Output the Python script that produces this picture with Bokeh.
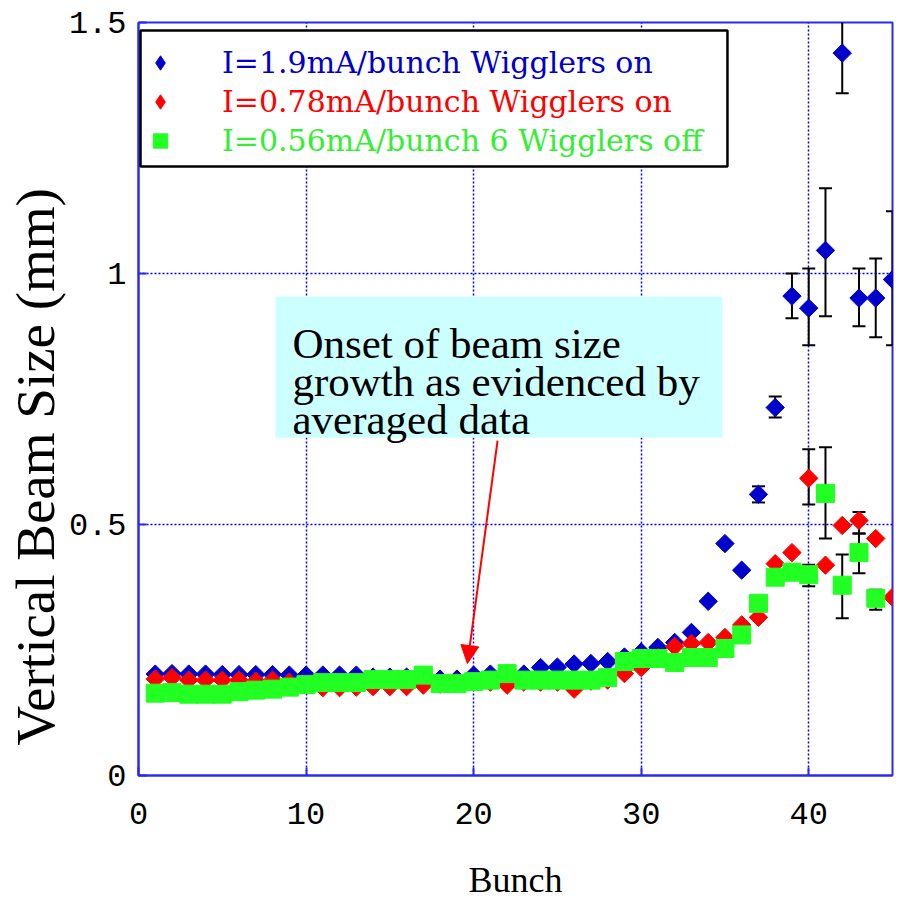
import math
from bokeh.plotting import figure
from bokeh.models import (Legend, LegendItem, Label, BoxAnnotation, Arrow, NormalHead,
                          FixedTicker, ColumnDataSource, Title)
from bokeh.embed import file_html
from bokeh.resources import INLINE

# ---------------- data ----------------
bunch = list(range(1, 46))
size_19ma = [0.202, 0.203, 0.202, 0.202, 0.201, 0.201, 0.201, 0.201, 0.200, 0.200,
             0.200, 0.200, 0.200, 0.196, 0.196, 0.196, 0.196, 0.192, 0.192, 0.200,
             0.202, 0.202, 0.202, 0.215, 0.216, 0.222, 0.223, 0.227, 0.236, 0.246,
             0.255, 0.265, 0.285, 0.347, 0.462, 0.409, 0.560, 0.733, 0.955, 0.931,
             1.046, 1.439, 0.951, 0.951, 0.988]
size_078ma = [0.192, 0.195, 0.190, 0.190, 0.190, 0.190, 0.188, 0.190, 0.186, 0.182,
              0.175, 0.175, 0.176, 0.177, 0.177, 0.177, 0.180, 0.182, 0.185, 0.186,
              0.186, 0.180, 0.186, 0.186, 0.186, 0.172, 0.188, 0.190, 0.203, 0.215,
              0.235, 0.257, 0.263, 0.265, 0.275, 0.300, 0.315, 0.422, 0.444, 0.592,
              0.419, 0.498, 0.508, 0.472, 0.355]
bunch_056 = list(range(1, 45))
size_056ma = [0.164, 0.165, 0.162, 0.162, 0.162, 0.167, 0.170, 0.172, 0.176, 0.181,
              0.185, 0.185, 0.185, 0.191, 0.191, 0.191, 0.200, 0.183, 0.183, 0.187,
              0.190, 0.203, 0.190, 0.190, 0.190, 0.190, 0.190, 0.195, 0.227, 0.233,
              0.233, 0.225, 0.235, 0.235, 0.253, 0.280, 0.343, 0.395, 0.405, 0.400,
              0.562, 0.379, 0.444, 0.353]

err_19_bunch = [37, 38, 39, 40, 41, 42, 43, 44, 45]
err_19_low = [0.544, 0.713, 0.911, 0.857, 0.915, 1.359, 0.895, 0.873, 0.857]
err_19_high = [0.576, 0.755, 1.000, 1.010, 1.170, 1.560, 1.010, 1.030, 1.124]
err_078_bunch = [40, 43]
err_078_low = [0.540, 0.482]
err_078_high = [0.650, 0.525]
err_056_bunch = [40, 41, 42, 43, 44]
err_056_low = [0.377, 0.472, 0.313, 0.403, 0.330]
err_056_high = [0.420, 0.654, 0.440, 0.482, 0.370]

legend_labels = ["I=1.9mA/bunch Wigglers on",
                 "I=0.78mA/bunch Wigglers on",
                 "I=0.56mA/bunch 6 Wigglers off"]
x_ticks = [0, 10, 20, 30, 40]
y_ticks = [0, 0.5, 1, 1.5]
y_tick_labels = ["0", "0.5", "1", "1.5"]
note_lines = ["Onset of beam size", "growth as evidenced by", "averaged data"]

BLUE = "#0000cc"
RED = "#ff0000"
GREEN = "#22ff22"
FRAME_BLUE = "#2b2bf0"
SERIF = "Liberation Serif"
LEGFONT = "DejaVu Serif"
TICKFONT = "Liberation Mono"

p = figure(frame_width=754, frame_height=753, x_range=(0, 45), y_range=(0, 1.5),
           output_backend="svg", toolbar_location=None,
           min_border_left=138, min_border_right=4, min_border_top=22,
           min_border_bottom=0)
p.background_fill_color = "white"
p.border_fill_color = "white"
p.outline_line_color = FRAME_BLUE
p.outline_line_width = 2

# grid
p.xgrid.ticker = FixedTicker(ticks=[10, 20, 30, 40])
p.ygrid.ticker = FixedTicker(ticks=[0.5, 1.0])
for g in (p.xgrid, p.ygrid):
    g.grid_line_color = "#0000ff"
    g.grid_line_dash = "2 2"
    g.grid_line_width = 1.5

# axes
p.xaxis.ticker = FixedTicker(ticks=x_ticks)
p.yaxis.ticker = FixedTicker(ticks=y_ticks)
p.yaxis.major_label_overrides = {t: s for t, s in zip(y_ticks, y_tick_labels)}
for ax in (p.xaxis[0], p.yaxis[0]):
    ax.axis_line_color = FRAME_BLUE
    ax.axis_line_width = 2
    ax.major_tick_line_color = FRAME_BLUE
    ax.major_tick_line_width = 2
    ax.major_tick_in = 8
    ax.major_tick_out = 0
    ax.minor_tick_line_color = None
    ax.major_label_text_font = TICKFONT
    ax.major_label_text_font_size = "32px"
    ax.major_label_text_color = "black"
p.yaxis.major_label_standoff = 12
p.xaxis.major_label_standoff = 27
p.xaxis.axis_label = "Bunch"
p.xaxis.axis_label_text_font = SERIF
p.xaxis.axis_label_text_font_size = "36px"
p.xaxis.axis_label_text_font_style = "normal"
p.xaxis.axis_label_text_color = "black"
p.xaxis.axis_label_standoff = 33

# y-axis title, shifted toward the bottom like the original
p.add_layout(Title(text="Vertical Beam Size (mm)", align="left", offset=30,
                   standoff=0, text_font=SERIF, text_font_size="55px",
                   text_font_style="normal", text_color="black"), "left")

# error bars (drawn below markers)
for bx, lo, hi in ((err_19_bunch, err_19_low, err_19_high),
                   (err_078_bunch, err_078_low, err_078_high),
                   (err_056_bunch, err_056_low, err_056_high)):
    src = ColumnDataSource(dict(x=bx, lo=lo, hi=hi))
    p.segment(x0="x", y0="lo", x1="x", y1="hi", source=src, line_color="black", line_width=2)
    p.scatter(x="x", y="lo", source=src, marker="dash", size=13, line_color="black", line_width=2)
    p.scatter(x="x", y="hi", source=src, marker="dash", size=13, line_color="black", line_width=2)

p.scatter(bunch, size_19ma, marker="square", angle=math.pi / 4, size=13,
          fill_color=BLUE, line_color=BLUE)
p.scatter(bunch, size_078ma, marker="square", angle=math.pi / 4, size=13,
          fill_color=RED, line_color=RED)
p.scatter(bunch_056, size_056ma, marker="square", size=18,
          fill_color=GREEN, line_color=GREEN)

# legend frame
p.add_layout(BoxAnnotation(left=0.12, right=35.15, top=1.484, bottom=1.213,
                           fill_color="white", fill_alpha=1,
                           line_color="black", line_width=2.5, line_alpha=1))

# legend rows (invisible proxies supply the legend glyphs)
leg_blue = p.scatter(bunch[:1], size_19ma[:1], marker="diamond", fill_color=BLUE,
                     line_color=BLUE, visible=False)
leg_red = p.scatter(bunch[:1], size_078ma[:1], marker="diamond", fill_color=RED,
                    line_color=RED, visible=False)
leg_green = p.scatter(bunch_056[:1], size_056ma[:1], marker="square", fill_color=GREEN,
                      line_color=GREEN, visible=False)
for i, (lab, col, rr) in enumerate(zip(legend_labels, (BLUE, RED, "#33ee33"),
                                       (leg_blue, leg_red, leg_green))):
    lg = Legend(items=[LegendItem(label=lab, renderers=[rr])],
                location=(4, 693.5 - 39 * i), padding=0, spacing=0, label_height=39,
                glyph_height=39, glyph_width=36, label_standoff=44,
                label_text_font=LEGFONT, label_text_font_size="30px",
                label_text_color=col, border_line_color=None, background_fill_alpha=0,
                inactive_fill_alpha=0)
    p.add_layout(lg, "center")

# annotation box and arrow
p.add_layout(BoxAnnotation(left=8.18, right=34.85, bottom=0.673, top=0.954,
                           fill_color="#ccffff", fill_alpha=1, line_alpha=0))
for txt, yy in zip(note_lines, (0.8606, 0.785, 0.709)):
    p.add_layout(Label(x=9.19, y=yy, text=txt, text_color="black", text_font=SERIF,
                       text_font_size="43px", text_baseline="alphabetic"))
p.add_layout(Arrow(x_start=21.43, y_start=0.667, x_end=19.63, y_end=0.223,
                   line_color=RED, line_width=2,
                   end=NormalHead(size=18, fill_color=RED, line_color=RED)))

open("out.html", "w").write(file_html(p, INLINE))
